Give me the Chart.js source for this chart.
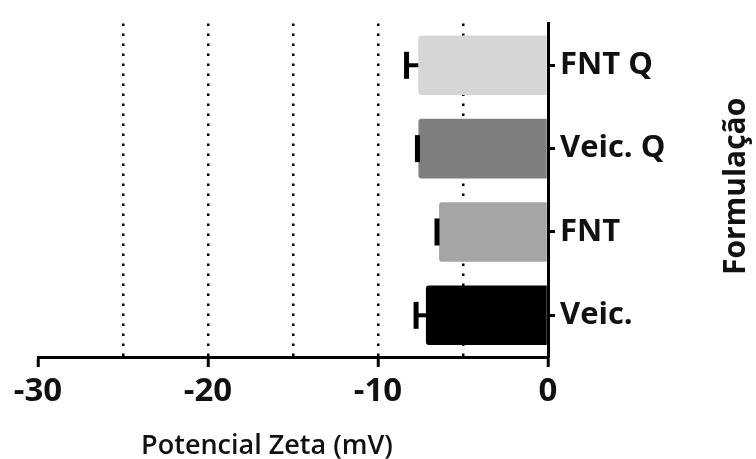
<!DOCTYPE html>
<html>
<head>
<meta charset="utf-8">
<script src="https://cdn.jsdelivr.net/npm/chart.js@4/dist/chart.umd.min.js"></script>
<style>
  html, body { margin: 0; padding: 0; background: #fff; }
  #wrap { width: 756px; height: 459px; }
</style>
</head>
<body>
<div id="wrap"><canvas id="zetaChart"></canvas></div>
<script>
const formulations = ['FNT Q', 'Veic. Q', 'FNT', 'Veic.'];
const zetaMeans = [-7.63, -7.62, -6.41, -7.18];
const zetaSd = [0.69, 0.06, 0.12, 0.58];
const barColors = ['#d6d6d6', '#7f7f7f', '#a5a5a7', '#000000'];
const xTickValues = [-30, -20, -10, 0];

const FONT = "'Open Sans', sans-serif";

// error bars, GraphPad style: only the outer half is drawn
const errorBars = {
  id: 'errorBars',
  afterDatasetsDraw(chart) {
    const { ctx } = chart;
    const x = chart.scales.x;
    const meta = chart.getDatasetMeta(0);
    ctx.save();
    ctx.strokeStyle = '#000';
    meta.data.forEach((bar, i) => {
      const x0 = x.getPixelForValue(zetaMeans[i]);
      const x1 = x.getPixelForValue(zetaMeans[i] - zetaSd[i]);
      ctx.lineWidth = 4;
      ctx.beginPath();
      ctx.moveTo(x0, bar.y);
      ctx.lineTo(x1, bar.y);
      ctx.stroke();
      ctx.lineWidth = 5;
      ctx.beginPath();
      ctx.moveTo(x1, bar.y - 13.5);
      ctx.lineTo(x1, bar.y + 13.5);
      ctx.stroke();
    });
    ctx.restore();
  }
};

// axis titles drawn by hand (right title reads bottom to top)
const axisTitles = {
  id: 'axisTitles',
  afterDraw(chart) {
    const { ctx, chartArea } = chart;
    ctx.save();
    ctx.fillStyle = '#111';
    ctx.textAlign = 'center';
    ctx.textBaseline = 'alphabetic';
    ctx.font = `600 27px ${FONT}`;
    ctx.fillText('Potencial Zeta (mV)', 267, 454);
    ctx.font = `700 30px ${FONT}`;
    ctx.translate(745, (chartArea.top + chartArea.bottom) / 2 - 4);
    ctx.rotate(-Math.PI / 2);
    ctx.fillText('Formulação', 0, 0);
    ctx.restore();
  }
};

new Chart(document.getElementById('zetaChart'), {
  type: 'bar',
  data: {
    labels: formulations,
    datasets: [{
      data: zetaMeans,
      backgroundColor: barColors,
      borderRadius: 3,
      barPercentage: 0.715,
      categoryPercentage: 1
    }]
  },
  options: {
    indexAxis: 'y',
    responsive: true,
    maintainAspectRatio: false,
    animation: false,
    layout: { padding: { left: 38, top: 15, right: 0, bottom: 0 } },
    plugins: { legend: { display: false }, tooltip: { enabled: false } },
    scales: {
      x: {
        min: -30,
        max: 0,
        afterFit: s => { s.height = 102; },
        ticks: {
          stepSize: 5,
          autoSkip: false,
          maxRotation: 0,
          padding: 5,
          color: '#111',
          font: { family: FONT, size: 33, weight: '700' },
          callback: v => xTickValues.includes(v) ? String(v) : ''
        },
        grid: {
          lineWidth: 2.5,
          color: c => (c.tick && (c.tick.value === -30 || c.tick.value === 0)) ? 'rgba(0,0,0,0)' : '#000',
          tickColor: c => (c.tick && xTickValues.includes(c.tick.value)) ? '#000' : 'rgba(0,0,0,0)',
          tickWidth: 3,
          tickLength: 10
        },
        border: { display: true, color: '#000', width: 3, dash: [2.5, 7.5] }
      },
      y: {
        position: 'right',
        afterFit: s => { s.width = 208; },
        ticks: {
          padding: 5,
          color: '#111',
          font: { family: FONT, size: 31, weight: '700' }
        },
        grid: {
          offset: false,
          drawOnChartArea: false,
          color: '#000',
          tickWidth: 3,
          tickLength: 7
        },
        border: { display: true, color: '#000', width: 3 }
      }
    }
  },
  plugins: [errorBars, axisTitles]
});
</script>
</body>
</html>
